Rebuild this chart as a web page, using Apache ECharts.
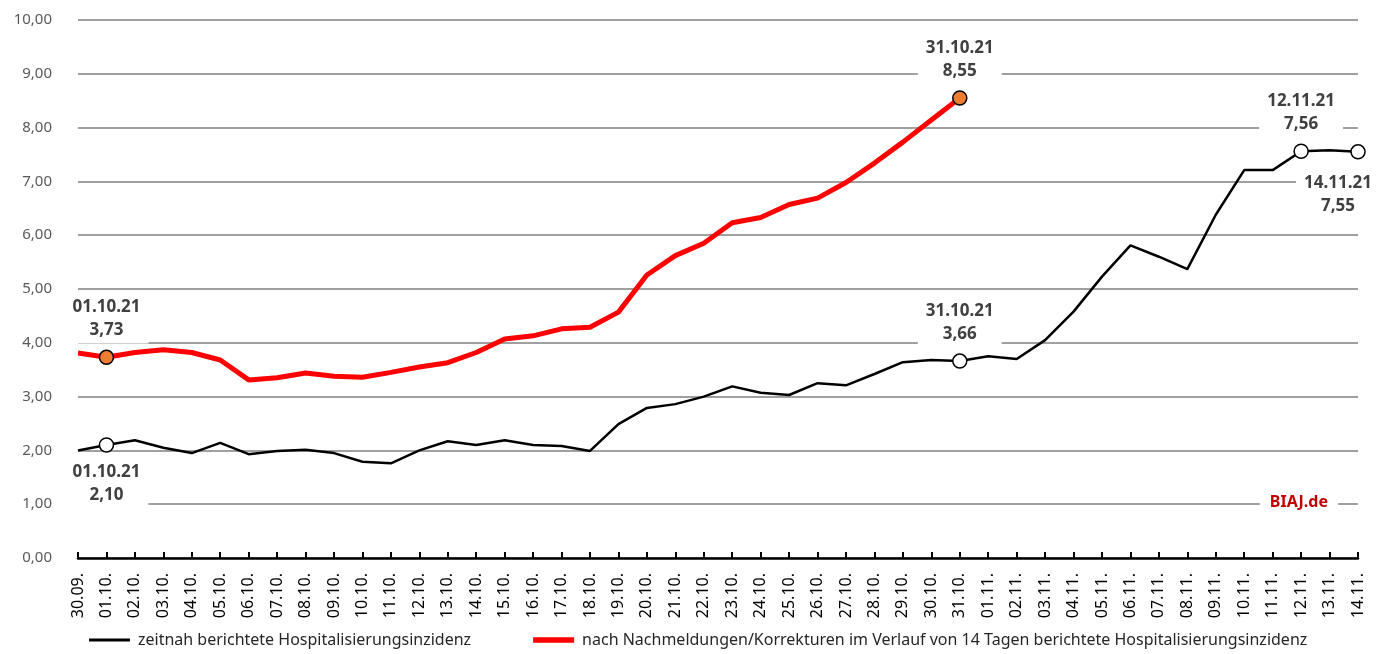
<!DOCTYPE html>
<html lang="de">
<head>
    <meta charset="UTF-8">
    <title>Hospitalisierungsinzidenz</title>
    <script src="https://cdn.jsdelivr.net/npm/echarts@6/dist/echarts.min.js"></script>
    <style>
        html, body { margin: 0; padding: 0; background: #fff; }
        #main { width: 1391px; height: 654px; }
    </style>
</head>
<body>
    <div id="main"></div>
    <script type="text/javascript">
        const dates = ['30.09.', '01.10.', '02.10.', '03.10.', '04.10.', '05.10.', '06.10.', '07.10.', '08.10.', '09.10.',
            '10.10.', '11.10.', '12.10.', '13.10.', '14.10.', '15.10.', '16.10.', '17.10.', '18.10.', '19.10.',
            '20.10.', '21.10.', '22.10.', '23.10.', '24.10.', '25.10.', '26.10.', '27.10.', '28.10.', '29.10.',
            '30.10.', '31.10.', '01.11.', '02.11.', '03.11.', '04.11.', '05.11.', '06.11.', '07.11.', '08.11.',
            '09.11.', '10.11.', '11.11.', '12.11.', '13.11.', '14.11.'];

        // zeitnah berichtete Hospitalisierungsinzidenz
        const zeitnah = [2.00, 2.10, 2.19, 2.05, 1.95, 2.14, 1.93, 1.99, 2.01, 1.95,
            1.79, 1.76, 2.00, 2.17, 2.10, 2.19, 2.10, 2.08, 1.99, 2.49,
            2.79, 2.86, 3.00, 3.19, 3.07, 3.03, 3.25, 3.21, 3.42, 3.64,
            3.68, 3.66, 3.75, 3.70, 4.05, 4.58, 5.23, 5.81, 5.60, 5.37,
            6.38, 7.21, 7.21, 7.56, 7.58, 7.55];

        // nach Nachmeldungen/Korrekturen (bis 31.10.)
        const korrigiert = [3.81, 3.73, 3.82, 3.87, 3.82, 3.68, 3.31, 3.35, 3.44, 3.38,
            3.36, 3.45, 3.55, 3.63, 3.82, 4.07, 4.13, 4.26, 4.29, 4.57,
            5.26, 5.62, 5.85, 6.23, 6.33, 6.57, 6.69, 6.98, 7.34, 7.73,
            8.14, 8.55];

        // markierte Punkte: index -> label position
        const zeitnahMarks = { 1: 'below', 31: 'top', 43: 'top', 45: 'belowLeft' };
        const korrigiertMarks = { 1: 'top', 31: 'top' };

        const seriesNames = ['zeitnah berichtete Hospitalisierungsinzidenz',
            'nach Nachmeldungen/Korrekturen im Verlauf von 14 Tagen berichtete Hospitalisierungsinzidenz'];

        const fmt = v => v.toFixed(2).replace('.', ',');
        const FONT = '"Noto Sans", sans-serif';

        function buildData(values, marks, fill) {
            return values.map((v, i) => {
                if (!(i in marks)) return v;
                const pos = marks[i];
                const label = {
                    show: true,
                    formatter: dates[i] + '21\n' + fmt(v),
                    color: '#404040',
                    fontWeight: 'bold',
                    fontSize: 17,
                    lineHeight: 23,
                    fontFamily: FONT,
                    backgroundColor: '#fff',
                    padding: [2, 8, 2, 8],
                    position: pos === 'top' ? 'top' : 'bottom',
                    distance: 6
                };
                if (pos === 'belowLeft') label.offset = [-20, 4];
                return {
                    value: v,
                    symbol: 'circle',
                    symbolSize: 14,
                    itemStyle: { color: fill, borderColor: '#000', borderWidth: 1.5 },
                    label: label
                };
            });
        }

        const chart = echarts.init(document.getElementById('main'));
        const option = {
            animation: false,
            backgroundColor: '#fff',
            textStyle: { fontFamily: FONT },
            grid: { left: 78, right: 33, top: 20, bottom: 96, containLabel: false },
            legend: {
                bottom: 1,
                left: 84,
                itemWidth: 41,
                itemHeight: 10,
                itemGap: 62,
                textStyle: { fontSize: 16, color: '#262626', fontFamily: FONT, padding: [0, 0, 0, 3] },
                data: [
                    { name: seriesNames[0], icon: 'path://M0,0H40V2.8H0Z' },
                    { name: seriesNames[1], icon: 'path://M0,0H40V5.5H0Z' }
                ]
            },
            xAxis: {
                type: 'category',
                boundaryGap: false,
                data: dates,
                axisLine: { lineStyle: { color: '#000', width: 2.5 } },
                axisTick: { inside: true, length: 6, interval: 0, lineStyle: { color: '#000', width: 2 } },
                axisLabel: { interval: 0, rotate: 90, margin: 15, fontSize: 16, color: '#000', fontFamily: FONT }
            },
            yAxis: {
                type: 'value',
                min: 0,
                max: 10,
                interval: 1,
                axisLine: { show: false },
                axisTick: { show: false },
                axisLabel: { formatter: fmt, fontSize: 15, color: '#595959', margin: 26, fontFamily: FONT },
                splitLine: { lineStyle: { color: '#808080', width: 1.6 } }
            },
            series: [
                {
                    name: seriesNames[0],
                    type: 'line',
                    symbol: 'none',
                    z: 3,
                    color: '#000',
                    lineStyle: { color: '#000', width: 2.5 },
                    data: buildData(zeitnah, zeitnahMarks, '#fff')
                },
                {
                    name: seriesNames[1],
                    type: 'line',
                    symbol: 'none',
                    z: 2,
                    color: '#ff0000',
                    lineStyle: { color: '#ff0000', width: 5 },
                    data: buildData(korrigiert, korrigiertMarks, '#ed7d31')
                }
            ],
            graphic: [{
                type: 'text',
                right: 53,
                top: 492,
                z: 10,
                style: {
                    text: 'BIAJ.de',
                    fill: '#c00000',
                    font: 'bold 16px "Noto Sans", sans-serif',
                    backgroundColor: '#fff',
                    padding: [2, 10, 2, 10]
                }
            }]
        };
        chart.setOption(option);
    </script>
</body>
</html>
